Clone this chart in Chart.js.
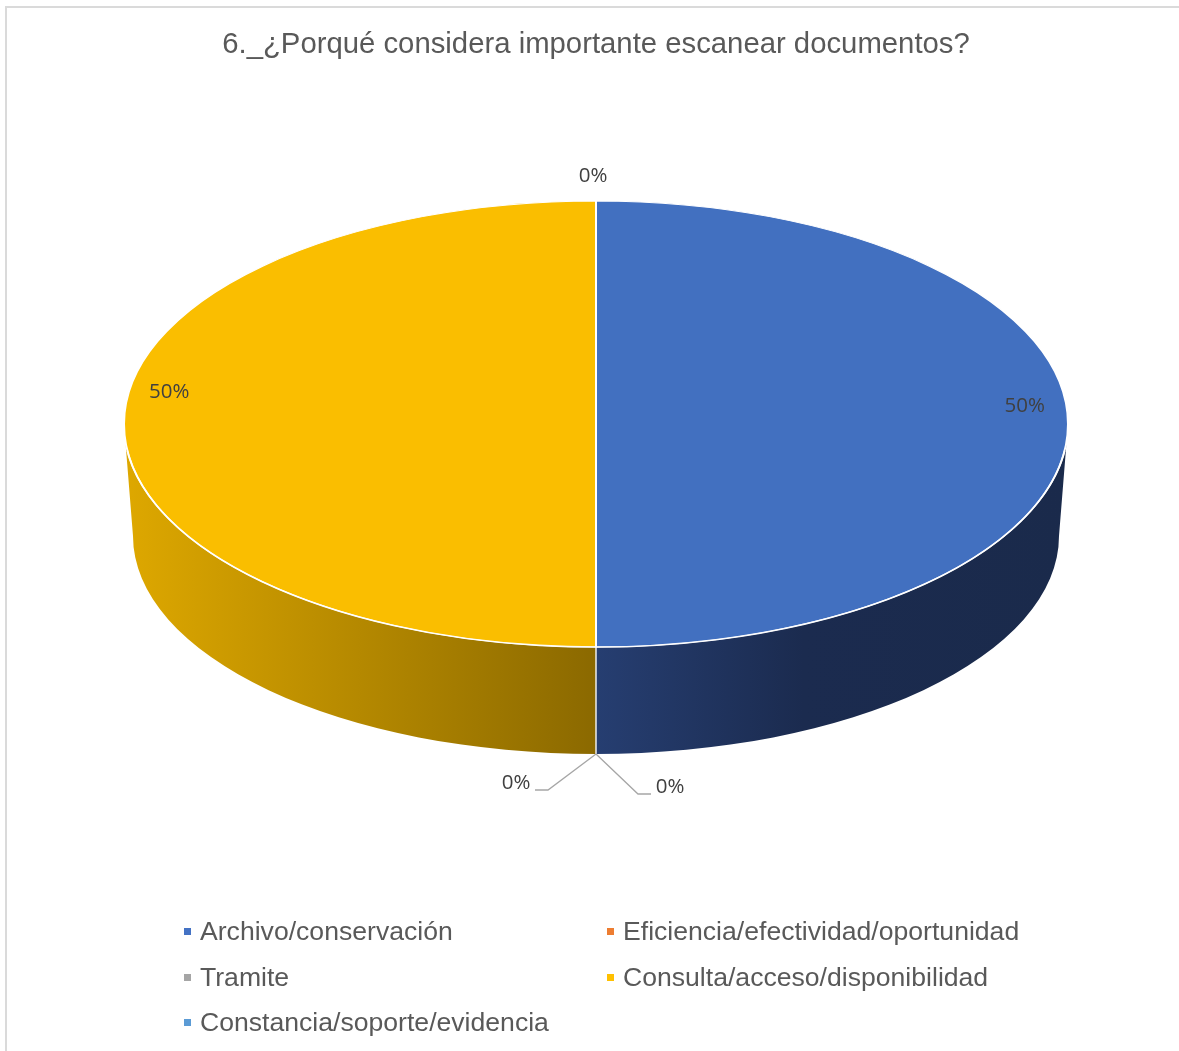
<!DOCTYPE html>
<html lang="es">
<head>
<meta charset="utf-8">
<script src="https://cdn.jsdelivr.net/npm/chart.js@4.4.1/dist/chart.umd.min.js"></script>
<style>
  html, body { margin: 0; padding: 0; background: #fff; }
  body { width: 1179px; height: 1051px; position: relative; overflow: hidden; font-family: 'Liberation Sans', Arial, sans-serif; }
  .marco { position: absolute; left: 5px; top: 6px; width: 1220px; height: 1100px; border: 2px solid #dadada; box-sizing: border-box; }
  #grafico { position: absolute; left: 0; top: 0; }
  #leyenda { position: absolute; left: 184px; top: 909px; display: grid; grid-template-columns: 423px auto; grid-auto-rows: 45.5px; color: #595959; font-size: 26.6px; }
  #leyenda span { display: flex; align-items: center; white-space: nowrap; }
  #leyenda i { display: inline-block; width: 7px; height: 7px; margin-right: 9px; }
</style>
</head>
<body>
<div class="marco"></div>
<canvas id="grafico" width="1179" height="1051"></canvas>
<div id="leyenda"></div>
<script>
// respuestas a la pregunta 6 (porcentaje de encuestados)
const titulo = '6._¿Porqué considera importante escanear documentos?';
const etiquetas = ['Archivo/conservación', 'Eficiencia/efectividad/oportunidad', 'Tramite', 'Consulta/acceso/disponibilidad', 'Constancia/soporte/evidencia'];
const respuestas = [50, 0, 0, 50, 0];
const coloresLeyenda = ['#4472C4', '#ED7D31', '#A5A5A5', '#FFC000', '#5B9BD5'];

// colores de la cara superior y degradados del borde lateral (fracción del ancho total)
const coloresCara = ['#4270C0', '#E97A2F', '#A2A2A2', '#FABE00', '#5898D2'];
const degradadosLado = [
    [[0.5, '#263e71'], [0.72, '#1b2b4f'], [1, '#1a2a4b']],
    [[0, '#b55f22'], [1, '#7a3f16']],
    [[0, '#8a8a8a'], [1, '#5a5a5a']],
    [[0, '#dea800'], [0.5, '#8b6900']],
    [[0, '#4a7db0'], [1, '#2f5476']]
];

// ajuste fino de la posición de cada etiqueta de porcentaje
const desplazaEtiqueta = [[4, -18], [74, 30], [-80, 26], [-2, -32], [-3, -25]];

function porcentaje(v) {
    const total = respuestas.reduce((a, b) => a + b, 0);
    return Math.round(v / total * 100) + '%';
}

// leyenda en dos columnas
const leyenda = document.getElementById('leyenda');
etiquetas.forEach((txt, i) => {
    const el = document.createElement('span');
    el.innerHTML = '<i style="background:' + coloresLeyenda[i] + '"></i>' + txt;
    leyenda.appendChild(el);
});

// pastel en perspectiva: la cara se aplana en vertical y se añade el canto
const pastel3D = {
    id: 'pastel3D',
    geo(arc, o) {
        const rx = arc.outerRadius;
        return {
            cx: arc.x, cy: o.centroY, rx: rx, ry: o.radioY, k: o.radioY / rx,
            cyB: o.fondoY - o.radioYFondo, rxB: o.radioXFondo, ryB: o.radioYFondo
        };
    },
    beforeDatasetsDraw(chart, args, o) {
        const arcs = chart.getDatasetMeta(0).data;
        if (!arcs.length) return;
        const ctx = chart.ctx;
        const g = this.geo(arcs[0], o);

        // canto visible: solo la mitad delantera (0..PI)
        arcs.forEach((arc, i) => {
            for (let n = -1; n <= 1; n++) {
                const base = n * 2 * Math.PI;
                const lo = Math.max(arc.startAngle, base);
                const hi = Math.min(arc.endAngle, base + Math.PI);
                if (hi - lo <= 0) continue;
                const a = lo - base, b = hi - base;
                const grad = ctx.createLinearGradient(g.cx - g.rx, 0, g.cx + g.rx, 0);
                degradadosLado[i].forEach(s => grad.addColorStop(s[0], s[1]));
                ctx.beginPath();
                ctx.ellipse(g.cx, g.cy, g.rx, g.ry, 0, a, b, false);
                ctx.lineTo(g.cx + g.rxB * Math.cos(b), g.cyB + g.ryB * Math.sin(b));
                ctx.ellipse(g.cx, g.cyB, g.rxB, g.ryB, 0, b, a, true);
                ctx.closePath();
                ctx.fillStyle = grad;
                ctx.fill();
            }
        });

        // separaciones verticales entre porciones en el canto
        ctx.save();
        ctx.strokeStyle = '#eeeeee';
        ctx.lineWidth = 1.5;
        arcs.forEach(arc => {
            const t = ((arc.startAngle % (2 * Math.PI)) + 2 * Math.PI) % (2 * Math.PI);
            if (arc.circumference > 0 && t > 0.01 && t < Math.PI - 0.01) {
                ctx.beginPath();
                ctx.moveTo(g.cx + g.rx * Math.cos(t), g.cy + g.ry * Math.sin(t));
                ctx.lineTo(g.cx + g.rxB * Math.cos(t), g.cyB + g.ryB * Math.sin(t));
                ctx.stroke();
            }
        });
        ctx.restore();

        ctx.save();
        ctx.translate(0, g.cy);
        ctx.scale(1, g.k);
        ctx.translate(0, -arcs[0].y);
    },
    afterDatasetsDraw(chart, args, o) {
        const arcs = chart.getDatasetMeta(0).data;
        if (!arcs.length) return;
        const ctx = chart.ctx;
        ctx.restore();
        const g = this.geo(arcs[0], o);

        // brillo del borde delantero
        ctx.save();
        ctx.strokeStyle = 'rgba(255,255,255,0.95)';
        ctx.lineWidth = 1.6;
        ctx.beginPath();
        ctx.ellipse(g.cx, g.cy, g.rx, g.ry, 0, 0.12, Math.PI - 0.12, false);
        ctx.stroke();
        ctx.restore();

        // etiquetas de porcentaje
        ctx.save();
        ctx.font = '20.5px "Open Sans"';
        ctx.fillStyle = '#404040';
        ctx.textAlign = 'center';
        ctx.textBaseline = 'middle';
        const fondo = [g.cx, g.cyB + g.ryB + 3];
        arcs.forEach((arc, i) => {
            const v = respuestas[i];
            const m = (arc.startAngle + arc.endAngle) / 2;
            const d = desplazaEtiqueta[i];
            let x, y;
            if (v > 0 || Math.sin(m) < 0.5) {
                x = g.cx + 0.9 * g.rx * Math.cos(m) + d[0];
                y = g.cy + (v > 0 ? 0.9 : 1) * g.ry * Math.sin(m) + d[1];
            } else {
                // porciones nulas en la parte inferior: con línea guía
                x = fondo[0] + d[0];
                y = fondo[1] + d[1];
                const lado = d[0] > 0 ? 1 : -1;
                ctx.save();
                ctx.strokeStyle = '#a6a6a6';
                ctx.lineWidth = 1.3;
                ctx.beginPath();
                ctx.moveTo(fondo[0], fondo[1] - 3);
                ctx.lineTo(x - lado * 32, y + 7);
                ctx.lineTo(x - lado * 19, y + 7);
                ctx.stroke();
                ctx.restore();
            }
            ctx.fillText(porcentaje(v), x, y);
        });
        ctx.restore();
    }
};

new Chart(document.getElementById('grafico'), {
    type: 'pie',
    data: {
        labels: etiquetas,
        datasets: [{
            data: respuestas,
            backgroundColor: coloresCara,
            borderColor: '#ffffff',
            borderWidth: 2,
            radius: 472,
            clip: false
        }]
    },
    options: {
        responsive: false,
        animation: false,
        events: [],
        layout: { padding: { left: 13, right: 0, top: 0, bottom: 0 } },
        plugins: {
            legend: { display: false },
            tooltip: { enabled: false },
            title: {
                display: true,
                text: titulo,
                color: '#595959',
                font: { family: 'Liberation Sans', size: 29.3, weight: 'normal' },
                padding: { top: 27, bottom: 0 }
            },
            pastel3D: {
                centroY: 424, radioY: 223,
                fondoY: 754, radioXFondo: 463, radioYFondo: 218
            }
        }
    },
    plugins: [pastel3D]
});
</script>
</body>
</html>
